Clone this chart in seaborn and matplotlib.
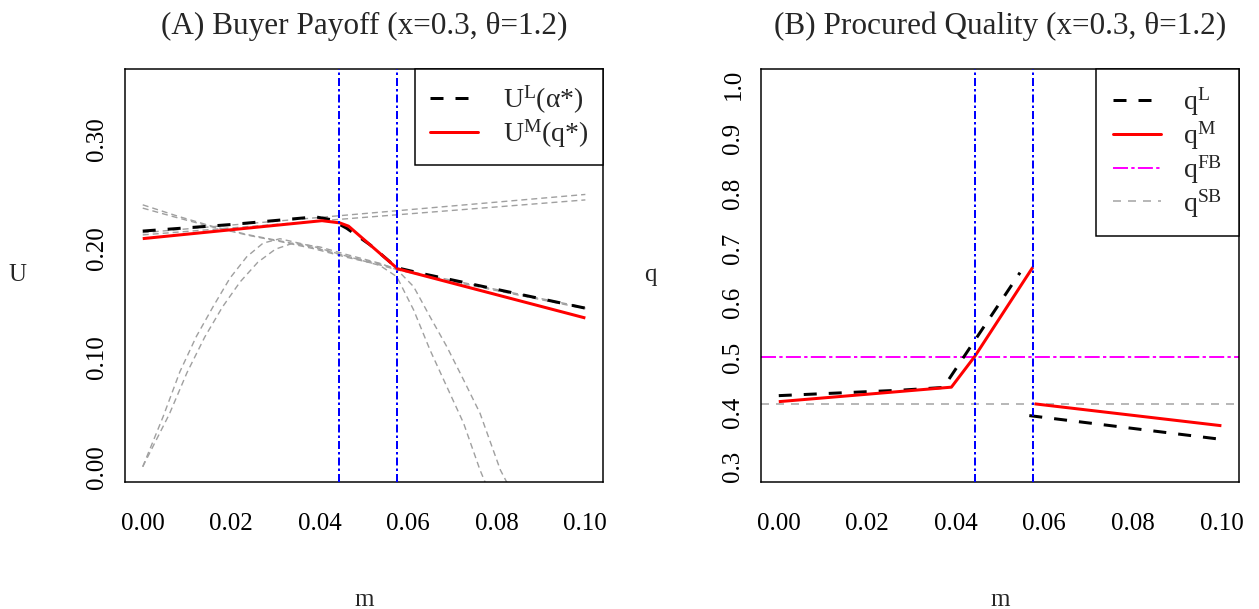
import numpy as np
import pandas as pd
import matplotlib
matplotlib.use("Agg")
import matplotlib.pyplot as plt
from matplotlib.lines import Line2D
import seaborn as sns

# ---------------- data ----------------
# Panel A: buyer payoff
uM_m = [0.0, 0.0405, 0.0445, 0.0465, 0.0576, 0.1]
uM_v = [0.2086, 0.2250, 0.2230, 0.2200, 0.1810, 0.1360]

uL_m = [0.0, 0.020, 0.039, 0.0425, 0.0461, 0.0514, 0.0574, 0.0627, 0.1]
uL_v = [0.2155, 0.2215, 0.2285, 0.2260, 0.2180, 0.2028, 0.1820, 0.1770, 0.1450]

# grey reference curves
g_rise_a_m = [0.0, 0.1]
g_rise_a_v = [0.214, 0.249]
g_rise_b_m = [0.0, 0.1]
g_rise_b_v = [0.212, 0.244]

g_desc_c_m = [0.0, 0.008, 0.016, 0.024, 0.031, 0.0385, 0.0461, 0.0536, 0.0575, 0.0627, 0.080, 0.1]
g_desc_c_v = [0.2395, 0.2290, 0.2195, 0.2120, 0.2065, 0.2005, 0.1925, 0.1855, 0.1810, 0.1765, 0.1620, 0.1455]
g_desc_d_m = [0.0, 0.008, 0.016, 0.024, 0.031, 0.0385, 0.0461, 0.0536, 0.0575, 0.0627, 0.080, 0.1]
g_desc_d_v = [0.2365, 0.2275, 0.2190, 0.2115, 0.2060, 0.1995, 0.1915, 0.1845, 0.1800, 0.1755, 0.1610, 0.1445]

g_par_e_m = [0.0, 0.0046, 0.0084, 0.0121, 0.0159, 0.0197, 0.0235, 0.0272, 0.031, 0.0385,
             0.0461, 0.0536, 0.0574, 0.0612, 0.0649, 0.0687, 0.0725, 0.0762, 0.079]
g_par_e_v = [0.0, 0.0457, 0.0869, 0.1190, 0.1464, 0.1724, 0.1920, 0.2045, 0.2085, 0.2015,
             0.1925, 0.1840, 0.1738, 0.1434, 0.1068, 0.0732, 0.0397, -0.003, -0.030]
g_par_f_m = [0.0, 0.006, 0.010, 0.014, 0.018, 0.022, 0.026, 0.030, 0.034, 0.040,
             0.0461, 0.0536, 0.0575, 0.0612, 0.0649, 0.0687, 0.0725, 0.0762, 0.0808, 0.083]
g_par_f_v = [0.0, 0.0480, 0.0860, 0.1185, 0.1460, 0.1690, 0.1870, 0.1990, 0.2045, 0.2010,
             0.1940, 0.1860, 0.1800, 0.1647, 0.1372, 0.1098, 0.0793, 0.0489, -0.003, -0.020]

# Panel B: procured quality
qM_a_m = [0.0, 0.0390, 0.0443, 0.0574]
qM_a_v = [0.419, 0.4455, 0.502, 0.665]
qM_b_m = [0.0578, 0.1]
qM_b_v = [0.4150, 0.3750]

qL_a_m = [0.0, 0.0276, 0.0372, 0.0545]
qL_a_v = [0.430, 0.440, 0.445, 0.655]
qL_b_m = [0.0566, 0.1]
qL_b_v = [0.3935, 0.3500]

q_FB = 0.5
q_SB = 0.4153
m_thresholds = [0.0443, 0.0575]

x_ticks = [0.00, 0.02, 0.04, 0.06, 0.08, 0.10]
x_labels = ["0.00", "0.02", "0.04", "0.06", "0.08", "0.10"]
yA_ticks = [0.00, 0.05, 0.10, 0.15, 0.20, 0.25, 0.30, 0.35]
yA_labels = ["0.00", "", "0.10", "", "0.20", "", "0.30", ""]
yB_ticks = [0.3, 0.4, 0.5, 0.6, 0.7, 0.8, 0.9, 1.0]
yB_labels = ["0.3", "0.4", "0.5", "0.6", "0.7", "0.8", "0.9", "1.0"]

titleA = "(A) Buyer Payoff (x=0.3, θ=1.2)"
titleB = "(B) Procured Quality (x=0.3, θ=1.2)"

# ---------------- style ----------------
sns.set_style("white")
plt.rcParams["font.family"] = ["Liberation Serif", "DejaVu Serif"]
plt.rcParams["mathtext.fontset"] = "custom"
plt.rcParams["mathtext.rm"] = "Liberation Serif"
plt.rcParams["mathtext.it"] = "Liberation Serif:italic"
plt.rcParams["lines.scale_dashes"] = False

PX = 0.72  # points per pixel at 100 dpi

RED = "#ff0000"
BLUE = "#0000ff"
MAG = "#ff00ff"
GREY = "#a0a0a0"
GREY_SB = "#b8b8b8"

ls_black = (0, (13 * PX, 12 * PX))
ls_grey = (0, (6 * PX, 4 * PX))
ls_blue = (0, (8 * PX, 3 * PX, 2.5 * PX, 3 * PX))
ls_mag = (0, (15 * PX, 3.3 * PX, 3.3 * PX, 3.3 * PX))
ls_sb = (0, (8 * PX, 7 * PX))

fig = plt.figure(figsize=(12.59, 6.09), dpi=100)
axA = fig.add_axes([0.0993, 0.2085, 0.3797, 0.6787])
axB = fig.add_axes([0.6045, 0.2085, 0.3797, 0.6787])


def seg(ax, mm, vv, color, lw, ls, z=2):
    df = pd.DataFrame({"m": mm, "v": vv})
    sns.lineplot(data=df, x="m", y="v", ax=ax, color=color, linewidth=lw,
                 linestyle=ls, sort=False, estimator=None, zorder=z,
                 solid_capstyle="butt", dash_capstyle="butt")


# ----- Panel A -----
for mm, vv in [(g_rise_a_m, g_rise_a_v), (g_rise_b_m, g_rise_b_v),
               (g_desc_c_m, g_desc_c_v), (g_desc_d_m, g_desc_d_v),
               (g_par_e_m, g_par_e_v), (g_par_f_m, g_par_f_v)]:
    seg(axA, mm, vv, GREY, 1.4 * PX, ls_grey, z=1)
seg(axA, uL_m, uL_v, "black", 3 * PX, ls_black, z=3)
seg(axA, uM_m, uM_v, RED, 3 * PX, "-", z=4)
for t in m_thresholds:
    axA.axvline(t, color=BLUE, lw=2 * PX, linestyle=ls_blue, zorder=5)

# ----- Panel B -----
axB.axhline(q_FB, color=MAG, lw=2 * PX, linestyle=ls_mag, zorder=1)
axB.axhline(q_SB, color=GREY_SB, lw=2 * PX, linestyle=ls_sb, zorder=1)
seg(axB, qL_a_m, qL_a_v, "black", 3 * PX, ls_black, z=3)
seg(axB, qL_b_m, qL_b_v, "black", 3 * PX, ls_black, z=3)
seg(axB, qM_a_m, qM_a_v, RED, 3 * PX, "-", z=4)
seg(axB, qM_b_m, qM_b_v, RED, 3 * PX, "-", z=4)
for t in m_thresholds:
    axB.axvline(t, color=BLUE, lw=2 * PX, linestyle=ls_blue, zorder=5)

# ----- axes cosmetics -----
for ax, yt, yl, ylim, title, ylab, ylx in [
        (axA, yA_ticks, yA_labels, (-0.014, 0.364), titleA, "U", -0.224),
        (axB, yB_ticks, yB_labels, (0.272, 1.028), titleB, "q", -0.232)]:
    ax.set_xlim(-0.004, 0.104)
    ax.set_ylim(*ylim)
    ax.set_xticks(x_ticks)
    ax.set_xticklabels(x_labels)
    ax.set_yticks(yt)
    ax.set_yticklabels(yl, rotation=90, va="center")
    ax.tick_params(axis="both", direction="out", length=16 * PX, width=1.5 * PX,
                   color="black", labelsize=18, labelcolor="black")
    ax.tick_params(axis="x", pad=11)
    ax.tick_params(axis="y", pad=0.5)
    for s in ax.spines.values():
        s.set_visible(True)
        s.set_color("black")
        s.set_linewidth(1.5 * PX)
    ax.set_title(title, fontsize=22.5, pad=25)
    ax.set_xlabel("m", fontsize=18)
    ax.xaxis.set_label_coords(0.5, -0.26)
    ax.set_ylabel(ylab, fontsize=18, rotation=0, va="center", ha="center")
    ax.yaxis.set_label_coords(ylx, 0.5)
    ax.grid(False)

# ----- legends -----
hA = [Line2D([], [], color="black", lw=3 * PX, linestyle=ls_black),
      Line2D([], [], color=RED, lw=3 * PX)]
labA = [r"U$^{\mathrm{L}}$(α*)", r"U$^{\mathrm{M}}$(q*)"]
legA = axA.legend(hA, labA, loc="upper right", borderaxespad=0, fontsize=20,
                  frameon=True, fancybox=False, edgecolor="black", framealpha=1,
                  handlelength=1.7, handletextpad=0.9, borderpad=0.55,
                  labelspacing=0.05)
legA.get_frame().set_linewidth(1.5 * PX)

hB = [Line2D([], [], color="black", lw=3 * PX, linestyle=ls_black),
      Line2D([], [], color=RED, lw=3 * PX),
      Line2D([], [], color=MAG, lw=2 * PX, linestyle=ls_mag),
      Line2D([], [], color=GREY_SB, lw=2 * PX, linestyle=ls_sb)]
labB = [r"q$^{\mathrm{L}}$", r"q$^{\mathrm{M}}$", r"q$^{\mathrm{FB}}$", r"q$^{\mathrm{SB}}$"]
legB = axB.legend(hB, labB, loc="upper right", borderaxespad=0, fontsize=20,
                  frameon=True, fancybox=False, edgecolor="black", framealpha=1,
                  handlelength=1.75, handletextpad=0.8, borderpad=0.6,
                  labelspacing=0.05)
legB.get_frame().set_linewidth(1.5 * PX)

fig.savefig("out.png", dpi=100, facecolor="white")
